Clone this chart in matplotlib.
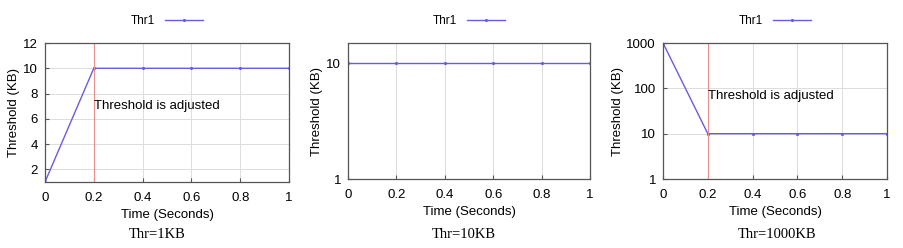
import matplotlib
matplotlib.use('Agg')
from matplotlib import pyplot as plt
from matplotlib.ticker import FixedLocator, FixedFormatter, NullLocator

# data
time = [0, 0.2, 0.4, 0.6, 0.8, 1.0]
thr_1kb = [1, 10, 10, 10, 10, 10]
thr_10kb = [10, 10, 10, 10, 10, 10]
thr_1000kb = [1000, 10, 10, 10, 10, 10]
xticks = [0, 0.2, 0.4, 0.6, 0.8, 1]
xticklabels = ['0', '0.2', '0.4', '0.6', '0.8', '1']
captions = ['Thr=1KB', 'Thr=10KB', 'Thr=1000KB']

plt.rcParams['font.family'] = 'Liberation Sans'
line_color = '#6a5ce0'
red_color = '#e89090'
grid_color = '#dcdcdc'

fig = plt.figure(figsize=(9.04, 2.48), dpi=100)

positions = [
    [45 / 904, 66 / 248, 244 / 904, 139 / 248],
    [348 / 904, 69 / 248, 242 / 904, 136 / 248],
    [663 / 904, 69 / 248, 224 / 904, 136 / 248],
]
series = [thr_1kb, thr_10kb, thr_1000kb]

axes = []
for i in range(3):
    ax = fig.add_axes(positions[i])
    ax.plot(time, series[i], color=line_color, lw=1.0, marker='.', ms=2.5, label='Thr1')
    ax.set_xlim(0, 1)
    ax.set_xticks(xticks)
    ax.set_xticklabels(xticklabels)
    ax.set_xlabel('Time (Seconds)', fontsize=9.5, labelpad=4)
    ax.set_ylabel('Threshold (KB)', fontsize=9.5, labelpad=2)
    ax.tick_params(direction='in', labelsize=9.5, length=3, color='#555555')
    ax.tick_params(axis='x', pad=7)
    ax.tick_params(axis='y', pad=5)
    for s in ax.spines.values():
        s.set_color('#555555')
        s.set_linewidth(0.9)
    ax.grid(True, color=grid_color, lw=0.7)
    ax.set_axisbelow(True)
    leg = ax.legend(loc='lower center', bbox_to_anchor=(0.5, 1.08), frameon=False,
                    markerfirst=False, fontsize=8.5, handlelength=3.2, handletextpad=0.8,
                    borderaxespad=0)
    axes.append(ax)

# panel 1: linear scale
ax = axes[0]
ax.set_ylim(1, 12)
ax.set_yticks([2, 4, 6, 8, 10, 12])
ax.axvline(0.2, color=red_color, lw=0.8)
ax.text(0.2, 7, 'Threshold is adjusted', fontsize=9.5, va='center', ha='left')

# panel 2: log scale
ax = axes[1]
ax.set_yscale('log')
ax.set_ylim(1, 15)
ax.yaxis.set_major_locator(FixedLocator([1, 10]))
ax.yaxis.set_major_formatter(FixedFormatter(['1', '10']))
ax.yaxis.set_minor_locator(NullLocator())

# panel 3: log scale
ax = axes[2]
ax.set_yscale('log')
ax.set_ylim(1, 1000)
ax.yaxis.set_major_locator(FixedLocator([1, 10, 100, 1000]))
ax.yaxis.set_major_formatter(FixedFormatter(['1', '10', '100', '1000']))
ax.yaxis.set_minor_locator(NullLocator())
ax.axvline(0.2, color=red_color, lw=0.8)
ax.text(0.2, 68, 'Threshold is adjusted', fontsize=9.5, va='center', ha='left')

# captions under each panel
cap_x = [157 / 904, 464 / 904, 777 / 904]
for i in range(3):
    fig.text(cap_x[i], 1 - 234 / 248, captions[i], ha='center', va='center',
             fontsize=10.5, family='Liberation Serif')

fig.savefig('out.png', dpi=100)
